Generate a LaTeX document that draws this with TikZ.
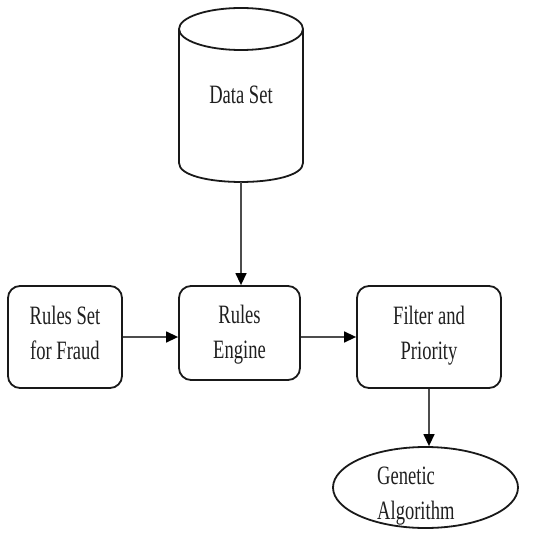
\documentclass[tikz,border=0pt]{standalone}
\usepackage{fontspec}
\setmainfont{Liberation Serif}
\usetikzlibrary{arrows.meta,shapes.geometric}
\newcommand{\narrow}[1]{\scalebox{0.7}[1]{\begin{tabular}{@{}c@{}}#1\end{tabular}}}
\newcommand{\narrowl}[1]{\scalebox{0.7}[1]{\begin{tabular}{@{}l@{}}#1\end{tabular}}}
\begin{document}
\begin{tikzpicture}[x=1pt,y=-1pt,
  box/.style={draw=black!90,line width=1.8pt,rounded corners=12pt,inner sep=0pt},
  lbl/.style={font=\fontsize{26.5}{35}\selectfont,text=black!88,inner sep=0pt},
  conn/.style={draw=black!70,line width=1.4pt,-{Triangle[length=12pt,width=11pt,fill=black,color=black]}}]
\useasboundingbox (0,0) rectangle (532,534);
% Data set cylinder
\draw[black!90,line width=1.8pt] (241,29) ellipse [x radius=62pt, y radius=21pt];
\draw[black!90,line width=1.8pt] (179,29) -- (179,163) .. controls (179,188.3) and (303,188.3) .. (303,163) -- (303,29);
\node[lbl] (ds) at (241,97) {\narrow{Data Set}};
\coordinate (dsb) at (241,182);
% boxes
\node[box,minimum width=114pt,minimum height=102pt] (rs) at (65,337) {};
\node[lbl] (rst) at (65,335) {\narrow{Rules Set\\for Fraud}};
\node[box,minimum width=121pt,minimum height=94pt] (re) at (239.5,333) {};
\node[lbl] (ret) at (239.5,334) {\narrow{Rules\\Engine}};
\node[box,minimum width=144pt,minimum height=102pt] (fp) at (429,337) {};
\node[lbl] (fpt) at (429,335) {\narrow{Filter and\\Priority}};
% ellipse
\node[draw=black!90,line width=1.8pt,ellipse,minimum width=185pt,minimum height=81pt,inner sep=0pt] (ga) at (425.5,487.5) {};
\node[lbl,anchor=west] (gat) at (377,495) {\narrowl{Genetic\\Algorithm}};
% connectors
\draw[conn] (dsb) -- (dsb |- re.north);
\draw[conn] (rs.east) -- (rs.east -| re.west);
\draw[conn] (re.east |- rs.east) -- (rs.east -| fp.west);
\draw[conn] (fp.south) -- (fp.south |- ga.north);
\end{tikzpicture}
\end{document}
